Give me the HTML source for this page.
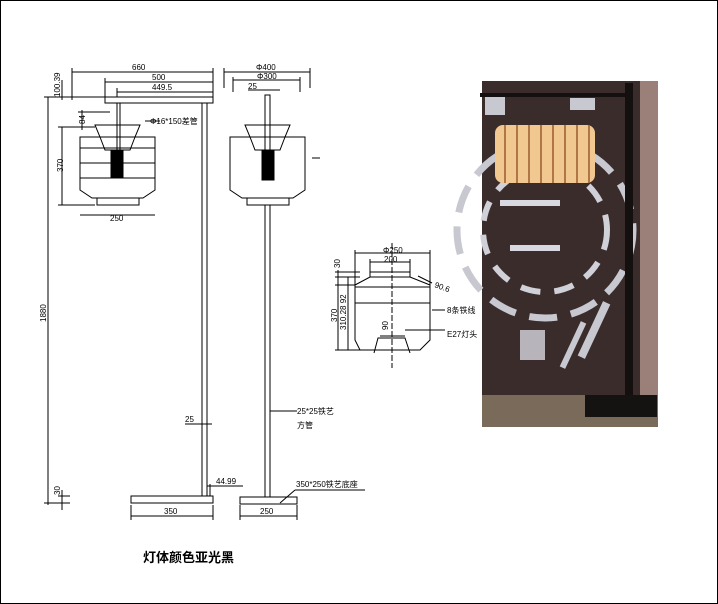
<!DOCTYPE html>
<html><head><meta charset="utf-8"><style>
html,body{margin:0;padding:0;background:#fff}
svg{display:block}
text{font-family:"Liberation Sans","Noto Sans CJK SC",sans-serif;font-size:8px;fill:#000}
</style></head><body>
<svg width="718" height="604" viewBox="0 0 718 604" xmlns="http://www.w3.org/2000/svg">
<rect x="0.5" y="0.5" width="717" height="603" fill="#fff" stroke="#000" stroke-width="1"/>
<g stroke="#000" stroke-width="1" fill="none">
<rect x="105" y="97" width="108" height="6"/>
<rect x="202" y="103" width="5" height="393"/>
<rect x="131" y="496" width="82" height="7"/>
<line x1="117" y1="103" x2="117" y2="160"/><line x1="120" y1="103" x2="120" y2="160"/>
<path d="M80 137 L155 137 L155 190 L143 198 L92 198 L80 190 Z"/>
<line x1="80" y1="148" x2="155" y2="148"/><line x1="80" y1="163" x2="155" y2="163"/><line x1="80" y1="178" x2="155" y2="178"/>
<path d="M95 125 L140 125 L135 137 L130 150 L105 150 L100 137 Z"/>
<rect x="97" y="198" width="42" height="7"/>
<rect x="111" y="150" width="12" height="28" fill="#000"/>
<line x1="72" y1="72" x2="213" y2="72"/><line x1="72" y1="68" x2="72" y2="100"/><line x1="213" y1="68" x2="213" y2="97"/>
<line x1="105" y1="82" x2="213" y2="82"/><line x1="105" y1="78" x2="105" y2="97"/>
<line x1="117" y1="92" x2="213" y2="92"/><line x1="117" y1="88" x2="117" y2="97"/>
<line x1="48" y1="97" x2="48" y2="505"/><line x1="44" y1="97" x2="110" y2="97"/>
<line x1="62" y1="80" x2="62" y2="100"/>
<line x1="62" y1="127" x2="62" y2="205"/><line x1="58" y1="127" x2="95" y2="127"/><line x1="58" y1="205" x2="95" y2="205"/>
<line x1="82" y1="110" x2="82" y2="130"/><line x1="78" y1="112" x2="110" y2="112"/>
<line x1="80" y1="215" x2="155" y2="215"/>
<line x1="145" y1="121" x2="160" y2="121"/>
<line x1="62" y1="490" x2="62" y2="510"/><line x1="58" y1="496" x2="70" y2="496"/><line x1="44" y1="503" x2="70" y2="503"/>
<line x1="131" y1="516" x2="213" y2="516"/><line x1="131" y1="505" x2="131" y2="520"/><line x1="213" y1="505" x2="213" y2="520"/>
<line x1="185" y1="424" x2="212" y2="424"/>
<line x1="207" y1="486" x2="243" y2="486"/><line x1="210" y1="484" x2="210" y2="496"/>
<rect x="265" y="95" width="5" height="85"/>
<rect x="265" y="205" width="5" height="292"/>
<rect x="240" y="497" width="57" height="7"/>
<path d="M230 137 L305 137 L305 190 L293 198 L242 198 L230 190 Z"/>
<path d="M245 125 L290 125 L285 137 L280 150 L255 150 L250 137 Z"/>
<rect x="247" y="198" width="42" height="7"/>
<rect x="262" y="150" width="12" height="30" fill="#000"/>
<line x1="224" y1="72" x2="310" y2="72"/><line x1="224" y1="68" x2="224" y2="88"/><line x1="310" y1="68" x2="310" y2="88"/>
<line x1="233" y1="80" x2="300" y2="80"/><line x1="233" y1="77" x2="233" y2="92"/><line x1="300" y1="77" x2="300" y2="92"/>
<line x1="248" y1="90" x2="280" y2="90"/>
<line x1="312" y1="158" x2="320" y2="158"/>
<line x1="240" y1="516" x2="297" y2="516"/><line x1="240" y1="505" x2="240" y2="520"/><line x1="297" y1="505" x2="297" y2="520"/>
<line x1="270" y1="411" x2="297" y2="411"/>
<line x1="280" y1="503" x2="295" y2="490"/><line x1="295" y1="490" x2="365" y2="490"/>
<path d="M355 285 L370 277 L410 277 L430 285 L430 340 L420 350 L360 350 L355 340 Z"/>
<line x1="370" y1="272" x2="410" y2="272"/><line x1="370" y1="272" x2="370" y2="277"/><line x1="410" y1="272" x2="410" y2="277"/>
<line x1="355" y1="287" x2="430" y2="287"/><line x1="355" y1="303" x2="430" y2="303"/>
<path d="M374 353 L378 338 L405 338 L410 353"/>
<line x1="380" y1="336" x2="405" y2="336"/>
<line x1="392" y1="243" x2="392" y2="368" stroke-dasharray="6,2"/>
<line x1="355" y1="253" x2="430" y2="253"/><line x1="355" y1="250" x2="355" y2="285"/><line x1="430" y1="250" x2="430" y2="285"/>
<line x1="370" y1="262" x2="410" y2="262"/><line x1="370" y1="259" x2="370" y2="272"/><line x1="410" y1="259" x2="410" y2="272"/>
<line x1="338" y1="270" x2="338" y2="350"/><line x1="335" y1="272" x2="360" y2="272"/><line x1="335" y1="277" x2="360" y2="277"/><line x1="335" y1="350" x2="360" y2="350"/>
<line x1="348" y1="277" x2="348" y2="350"/>
<line x1="335" y1="285" x2="355" y2="285"/>
<line x1="418" y1="276" x2="432" y2="283"/>
<line x1="432" y1="310" x2="445" y2="310"/>
<line x1="405" y1="330" x2="445" y2="330"/>
</g>
<text x="132" y="70">660</text>
<text x="152" y="80">500</text>
<text x="152" y="90">449.5</text>
<text x="150" y="124">Φ16*150差管</text>
<text transform="translate(60,97) rotate(-90)">100.39</text>
<text transform="translate(85,124) rotate(-90)">84</text>
<text transform="translate(63,172) rotate(-90)">370</text>
<text x="110" y="221">250</text>
<text transform="translate(46,322) rotate(-90)">1880</text>
<text transform="translate(60,495) rotate(-90)">30</text>
<text x="185" y="422">25</text>
<text x="216" y="484">44.99</text>
<text x="164" y="514">350</text>
<text x="256" y="70">Φ400</text>
<text x="257" y="79">Φ300</text>
<text x="248" y="89">25</text>
<text x="297" y="414">25*25铁艺</text>
<text x="297" y="428">方管</text>
<text x="296" y="487">350*250铁艺底座</text>
<text x="260" y="514">250</text>
<text x="383" y="253">Φ250</text>
<text x="384" y="262">200</text>
<text transform="translate(340,268) rotate(-90)">30</text>
<text x="434" y="287" transform="rotate(20,434,287)">90.6</text>
<text transform="translate(337,322) rotate(-90)">370</text>
<text transform="translate(346,330) rotate(-90)">310.28 92</text>
<text transform="translate(388,330) rotate(-90)">90</text>
<text x="447" y="313">8条铁线</text>
<text x="447" y="337">E27灯头</text>
<text x="143" y="562" style="font-size:13px;font-weight:bold">灯体颜色亚光黑</text>
<rect x="482" y="81" width="176" height="346" fill="#3a2c2a"/>
<rect x="640" y="81" width="18" height="346" fill="#9a8078"/>
<rect x="482" y="395" width="176" height="32" fill="#7a6a5a"/>
<circle cx="545" cy="230" r="88" fill="none" stroke="#c8c8d0" stroke-width="7" stroke-dasharray="28,14"/>
<circle cx="545" cy="230" r="62" fill="none" stroke="#d0d0d8" stroke-width="6" stroke-dasharray="20,14"/>
<rect x="500" y="200" width="60" height="6" fill="#d8d8e0"/>
<rect x="510" y="245" width="50" height="6" fill="#d8d8e0"/>
<rect x="590" y="300" width="8" height="60" fill="#c8c8d0" transform="rotate(25,594,330)"/>
<rect x="570" y="320" width="6" height="50" fill="#c8c8d0" transform="rotate(25,573,345)"/>
<rect x="520" y="330" width="25" height="30" fill="#b8b4bc"/>
<rect x="485" y="95" width="20" height="20" fill="#c8c8d0"/>
<rect x="570" y="98" width="25" height="12" fill="#c8c8d0"/>
<rect x="495" y="125" width="100" height="58" rx="8" fill="#f0c890"/>
<g stroke="#9a5a30" stroke-width="1.5"><line x1="505" y1="125" x2="505" y2="183"/><line x1="517" y1="125" x2="517" y2="183"/><line x1="529" y1="125" x2="529" y2="183"/><line x1="541" y1="125" x2="541" y2="183"/><line x1="553" y1="125" x2="553" y2="183"/><line x1="565" y1="125" x2="565" y2="183"/><line x1="577" y1="125" x2="577" y2="183"/><line x1="589" y1="125" x2="589" y2="183"/></g>
<rect x="480" y="93" width="148" height="4" fill="#151010"/>
<rect x="625" y="83" width="8" height="320" fill="#151010"/>
<rect x="585" y="395" width="72" height="22" fill="#151212"/>
</svg>
</body></html>
